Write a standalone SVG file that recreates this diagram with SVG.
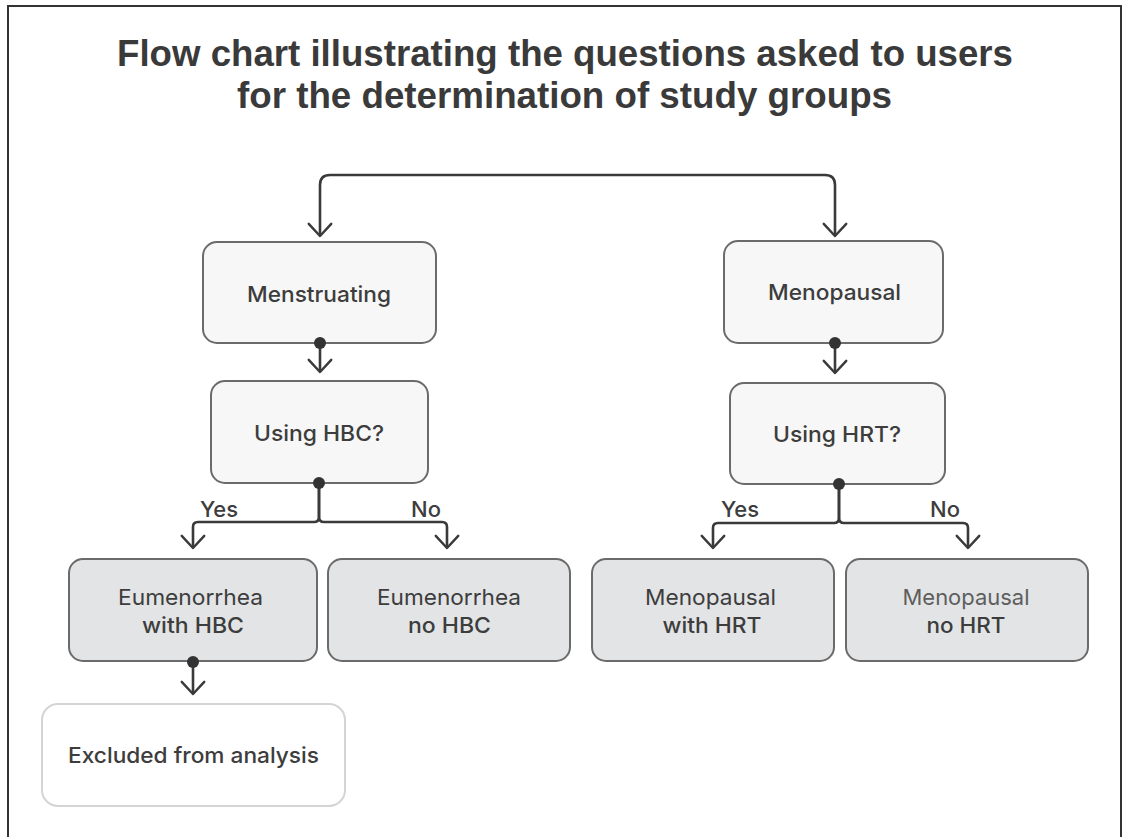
<svg xmlns="http://www.w3.org/2000/svg" width="1125" height="837" viewBox="0 0 1125 837">
  <defs>
    <marker id="arrow" markerUnits="userSpaceOnUse" markerWidth="30" markerHeight="30" viewBox="-16 -16 32 32" refX="0" refY="0" orient="auto">
      <path d="M-13,-12 L0,0 L-13,12" fill="none" stroke="#3a3a3a" stroke-width="2.6" stroke-linecap="round" stroke-linejoin="round"/>
    </marker>
  </defs>
  <style>
    .frame { fill: #ffffff; stroke: #333333; stroke-width: 2; }
    .title { font-family: "Liberation Sans", Arial, sans-serif; font-weight: bold; font-size: 36px; fill: #3a3a3a; text-anchor: middle; }
    .box { fill: #f7f7f7; stroke: #6b6b6b; stroke-width: 2; }
    .res { fill: #e3e4e6; stroke: #6b6b6b; stroke-width: 2; }
    .excl { fill: #ffffff; stroke: #d4d4d4; stroke-width: 2; }
    .lbl { font-family: Inter, "Liberation Sans", sans-serif; font-size: 22px; font-weight: 500; fill: #3d3d3d; text-anchor: middle; }
    .reg { font-weight: 400; }
    .light { fill: #5e5e5e; }
    .edge { fill: none; stroke: #3a3a3a; stroke-width: 2.6; stroke-linecap: butt; stroke-linejoin: round; }
    .dot { fill: #333333; }
    .branch { font-family: Inter, "Liberation Sans", sans-serif; font-size: 22px; font-weight: 500; fill: #3d3d3d; text-anchor: middle; }
  </style>

  <rect class="frame" x="8" y="6" width="1113" height="840"/>

  <g id="title">
    <text class="title" x="565" y="66" textLength="896" lengthAdjust="spacingAndGlyphs">Flow chart illustrating the questions asked to users</text>
    <text class="title" x="564.5" y="108" textLength="655" lengthAdjust="spacingAndGlyphs">for the determination of study groups</text>
  </g>

  <g id="n_menstruating">
    <rect class="box" x="203" y="242" width="233" height="101" rx="14"/>
    <text class="lbl" x="319" y="302" textLength="144" lengthAdjust="spacingAndGlyphs">Menstruating</text>
  </g>
  <g id="n_menopausal">
    <rect class="box" x="724" y="241" width="219" height="102" rx="14"/>
    <text class="lbl" x="834.5" y="300" textLength="133" lengthAdjust="spacingAndGlyphs">Menopausal</text>
  </g>
  <g id="n_using_hbc">
    <rect class="box" x="211" y="381" width="217" height="102" rx="14"/>
    <text class="lbl" x="319" y="441" textLength="130" lengthAdjust="spacingAndGlyphs">Using HBC?</text>
  </g>
  <g id="n_using_hrt">
    <rect class="box" x="730" y="383" width="215" height="101" rx="14"/>
    <text class="lbl" x="837" y="442" textLength="128" lengthAdjust="spacingAndGlyphs">Using HRT?</text>
  </g>
  <g id="n_eu_hbc">
    <rect class="res" x="69" y="559" width="248" height="102" rx="14"/>
    <text class="lbl reg" x="190.5" y="605" textLength="145" lengthAdjust="spacingAndGlyphs">Eumenorrhea</text>
    <text class="lbl" x="193" y="633" textLength="102" lengthAdjust="spacingAndGlyphs">with HBC</text>
  </g>
  <g id="n_eu_nohbc">
    <rect class="res" x="328" y="559" width="242" height="102" rx="14"/>
    <text class="lbl reg" x="449" y="605" textLength="144" lengthAdjust="spacingAndGlyphs">Eumenorrhea</text>
    <text class="lbl" x="449.5" y="633" textLength="83" lengthAdjust="spacingAndGlyphs">no HBC</text>
  </g>
  <g id="n_meno_hrt">
    <rect class="res" x="592" y="559" width="242" height="102" rx="14"/>
    <text class="lbl reg" x="710.5" y="605" textLength="131" lengthAdjust="spacingAndGlyphs">Menopausal</text>
    <text class="lbl" x="712" y="633" textLength="99" lengthAdjust="spacingAndGlyphs">with HRT</text>
  </g>
  <g id="n_meno_nohrt">
    <rect class="res" x="846" y="559" width="242" height="102" rx="14"/>
    <text class="lbl reg light" x="966" y="605" textLength="127" lengthAdjust="spacingAndGlyphs">Menopausal</text>
    <text class="lbl" x="966" y="633" textLength="79" lengthAdjust="spacingAndGlyphs">no HRT</text>
  </g>
  <g id="n_excluded">
    <rect class="excl" x="42" y="704" width="303" height="102" rx="16"/>
    <text class="lbl" x="193.5" y="763" textLength="251" lengthAdjust="spacingAndGlyphs">Excluded from analysis</text>
  </g>

  <g id="connectors">
    <path class="edge" d="M577,175 H330 Q320,175 320,185 V236" marker-end="url(#arrow)"/>
    <path class="edge" d="M577,175 H825 Q835,175 835,185 V236" marker-end="url(#arrow)"/>

    <path class="edge" d="M320,343 V372" marker-end="url(#arrow)"/>
    <circle class="dot" cx="320" cy="343" r="6"/>

    <path class="edge" d="M835,343 V373" marker-end="url(#arrow)"/>
    <circle class="dot" cx="835" cy="343" r="6"/>

    <path class="edge" d="M319,483 V517 Q319,522 314,522 H198 Q193,522 193,527 V548" marker-end="url(#arrow)"/>
    <path class="edge" d="M319,483 V517 Q319,522 324,522 H442 Q447,522 447,527 V548" marker-end="url(#arrow)"/>
    <circle class="dot" cx="319" cy="483" r="6"/>
    <text class="branch" x="219" y="517">Yes</text>
    <text class="branch" x="426" y="517">No</text>

    <path class="edge" d="M839,484 V518 Q839,523 834,523 H718 Q713,523 713,528 V548" marker-end="url(#arrow)"/>
    <path class="edge" d="M839,484 V518 Q839,523 844,523 H963 Q968,523 968,528 V548" marker-end="url(#arrow)"/>
    <circle class="dot" cx="839" cy="484" r="6"/>
    <text class="branch" x="740" y="517">Yes</text>
    <text class="branch" x="945" y="517">No</text>

    <path class="edge" d="M193,662 V694" marker-end="url(#arrow)"/>
    <circle class="dot" cx="193" cy="662" r="6"/>
  </g>
</svg>
